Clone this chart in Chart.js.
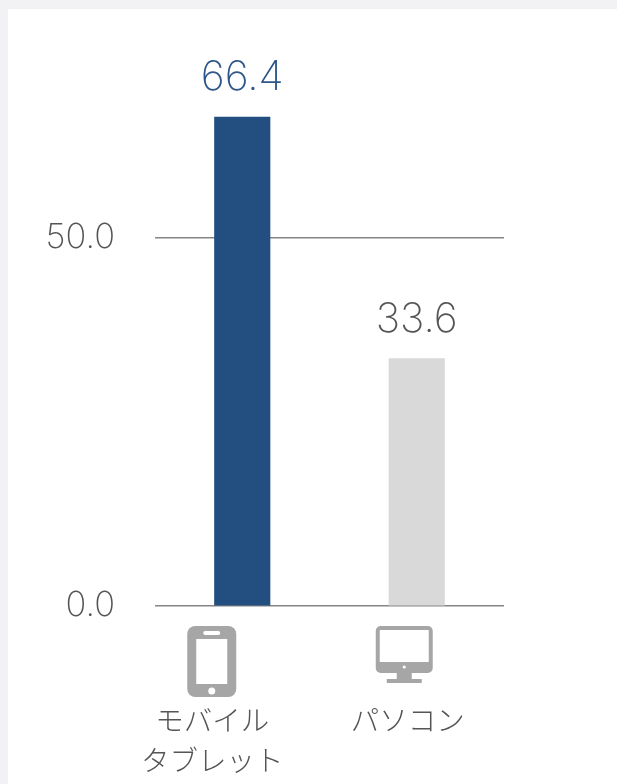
<!DOCTYPE html>
<html lang="ja">
<head>
<meta charset="utf-8">
<script src="https://cdn.jsdelivr.net/npm/chart.js@4"></script>
<style>
  html, body { margin: 0; height: 100%; background: #f2f2f4; overflow: hidden; }
  #wrap { position: absolute; left: 8px; top: 9px; width: 609px; height: 775px; background: #fff; }
</style>
</head>
<body>
<div id="wrap"><canvas id="c"></canvas></div>
<script>
const FONT = '"Noto Sans CJK JP", sans-serif'
const NUM_FONT = 'Inter, "Noto Sans", sans-serif'

const categories = [["モバイル", "タブレット"], ["パソコン"]]
const values = [66.4, 33.6]
const yTicks = [0, 50]

const BAR_COLORS = ["#234e80", "#d9d9d9"]
const LABEL_COLORS = ["#2f5688", "#555555"]
const TEXT_COLOR = "#555555"
const ICON_COLOR = "#a6a6a6"

function roundRect(ctx, x, y, w, h, r) {
  ctx.beginPath()
  ctx.roundRect(x, y, w, h, r)
  ctx.fill()
}

// icon origin is top centre of the icon
function drawPhone(ctx, cx, y) {
  ctx.fillStyle = ICON_COLOR
  roundRect(ctx, cx - 24.5, y, 49, 71, 8)
  ctx.fillStyle = "#fff"
  ctx.fillRect(cx - 15.5, y + 13, 31, 45)
  roundRect(ctx, cx - 8.5, y + 5, 17, 4, 2)
  ctx.beginPath()
  ctx.arc(cx, y + 65, 3.5, 0, Math.PI * 2)
  ctx.fill()
}

function drawMonitor(ctx, cx, y) {
  ctx.fillStyle = ICON_COLOR
  roundRect(ctx, cx - 28.5, y, 57, 47, 5)
  ctx.fillRect(cx - 7.5, y + 47, 15, 7)
  ctx.fillRect(cx - 17.5, y + 53, 35, 4)
  ctx.fillStyle = "#fff"
  ctx.fillRect(cx - 24.5, y + 4, 49, 32)
  ctx.beginPath()
  ctx.arc(cx, y + 41, 1.6, 0, Math.PI * 2)
  ctx.fill()
}

const ICONS = [
  { draw: drawPhone, shift: -30.5 },
  { draw: drawMonitor, shift: -12.5 },
]

const barExtras = {
  id: "barExtras",
  afterDatasetsDraw(chart) {
    const { ctx, scales } = chart
    const bars = chart.getDatasetMeta(0).data
    ctx.save()
    ctx.textAlign = "center"
    ctx.textBaseline = "alphabetic"
    bars.forEach((bar, i) => {
      ctx.font = "200 41px " + NUM_FONT
      ctx.fillStyle = LABEL_COLORS[i]
      ctx.fillText(values[i].toFixed(1), bar.x, bar.y - 27)

      const cx = scales.x.getPixelForValue(i)
      ICONS[i].draw(ctx, cx + ICONS[i].shift, scales.y.bottom + 20)

      ctx.font = "200 28.5px " + FONT
      ctx.fillStyle = TEXT_COLOR
      categories[i].forEach((line, j) => {
        ctx.fillText(line, cx + (i == 0 ? -30 : -9), scales.y.bottom + 125 + j * 40)
      })
    })
    ctx.restore()
  }
}

new Chart(document.getElementById("c"), {
  type: "bar",
  data: {
    labels: categories,
    datasets: [{ data: values, backgroundColor: BAR_COLORS, barThickness: 55.5 }],
  },
  plugins: [barExtras],
  options: {
    animation: false,
    responsive: true,
    maintainAspectRatio: false,
    layout: { padding: { top: 8, right: 113, bottom: 0, left: 0 } },
    plugins: { legend: { display: false }, tooltip: { enabled: false } },
    scales: {
      x: {
        grid: { display: false },
        border: { display: false },
        ticks: { display: false },
        afterFit(scale) { scale.height = 178 },
      },
      y: {
        min: 0,
        max: 80,
        afterBuildTicks(scale) { scale.ticks = yTicks.map(value => ({ value })) },
        grid: { color: "#858585", lineWidth: 1.5, drawTicks: false },
        border: { display: false },
        ticks: {
          padding: 40,
          color: TEXT_COLOR,
          font: { family: NUM_FONT, size: 34.5, weight: 200 },
          callback: v => v.toFixed(1),
        },
        afterFit(scale) {
          scale.width = 147
          // tick padding would otherwise eat into the plot height
          scale.paddingTop = 0
          scale.paddingBottom = 0
        },
      },
    },
  },
})
</script>
</body>
</html>
